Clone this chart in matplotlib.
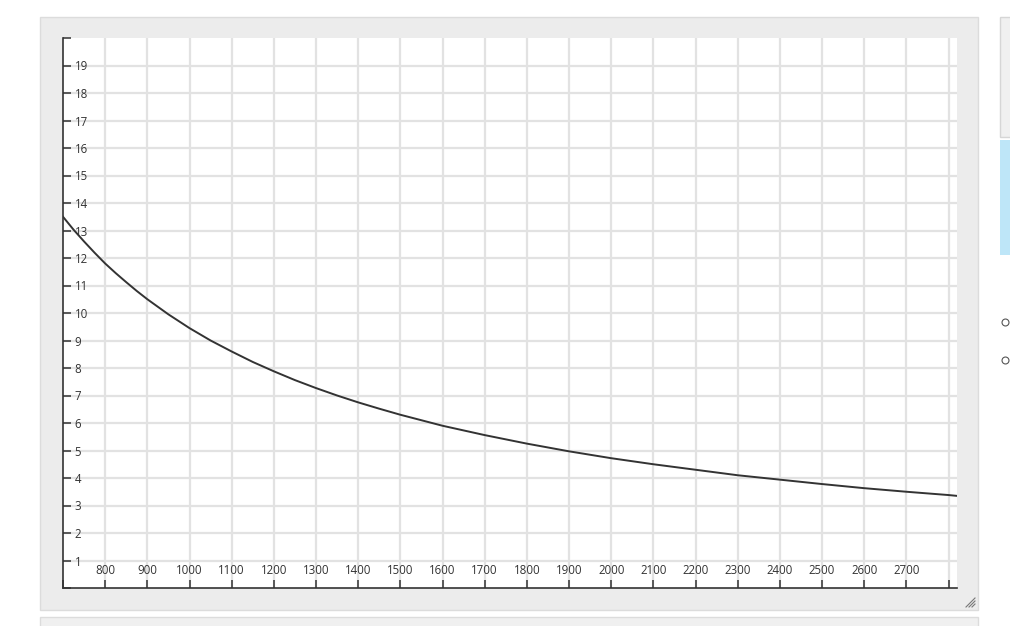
import matplotlib.pyplot as plt
from matplotlib.patches import Rectangle
from matplotlib.lines import Line2D

# values
x_vals = [700, 725, 750, 775, 800, 825, 850, 875, 900, 950, 1000, 1050, 1100, 1150,
          1200, 1250, 1300, 1350, 1400, 1450, 1500, 1600, 1700, 1800, 1900, 2000,
          2100, 2200, 2300, 2400, 2500, 2600, 2700, 2800, 2820]
y_vals = [13.5, 13.03, 12.6, 12.19, 11.8, 11.45, 11.12, 10.8, 10.5, 9.95, 9.45, 9.0,
          8.6, 8.22, 7.88, 7.56, 7.27, 7.0, 6.75, 6.52, 6.3, 5.9, 5.56, 5.25, 4.97,
          4.72, 4.5, 4.3, 4.1, 3.94, 3.78, 3.63, 3.5, 3.38, 3.35]

x_ticks = list(range(700, 2900, 100))
y_ticks = list(range(0, 21))
x_labels = ['' if (t == 700 or t == 2800) else str(t) for t in x_ticks]
y_labels = ['' if (t == 0 or t == 20) else str(t) for t in y_ticks]

W, H = 1010, 626
fig = plt.figure(figsize=(W / 100, H / 100), dpi=100)
fig.patch.set_facecolor('white')


def box(x0, y0, x1, y1, fc, ec, lw=1.0):
    # pixel coords (top-left origin) -> figure coords
    r = Rectangle((x0 / W, 1 - y1 / H), (x1 - x0) / W, (y1 - y0) / H,
                  transform=fig.transFigure, facecolor=fc, edgecolor=ec,
                  linewidth=lw, zorder=-5)
    fig.patches.append(r)


# gray window panel around the chart
box(40, 17, 978, 610, '#ececec', '#dcdcdc')
box(40, 617, 978, 630, '#f0f0f0', '#dcdcdc')
# side widgets on the right
box(1000, 17, 1012, 137, '#f0f0f0', '#d6d6d6')
box(1000, 140, 1012, 255, '#bee6f8', 'none')
for cy in (322, 360):
    fig.lines.append(Line2D([1004.5 / W], [1 - cy / H], transform=fig.transFigure,
                            marker='o', markersize=5, markerfacecolor='white',
                            markeredgecolor='#555555', markeredgewidth=0.8,
                            linestyle='none'))
# resize grip
for k in range(3):
    d = 3 + k * 3
    fig.lines.append(Line2D([(975 - d) / W, 975 / W], [1 - 607 / H, 1 - (607 - d) / H],
                            transform=fig.transFigure, color='#777777', linewidth=0.8))

ax = fig.add_axes([63 / W, 1 - 588 / H, (957 - 63) / W, (588 - 38) / H])
ax.set_zorder(5)
ax.set_facecolor('white')
ax.set_xlim(700, 2820)
ax.set_ylim(0, 20)

for t in x_ticks[1:]:
    ax.axvline(t, color='#e2e2e2', linewidth=1.6, zorder=0)
for t in y_ticks[1:-1]:
    ax.axhline(t, color='#e2e2e2', linewidth=1.6, zorder=0)

ax.plot(x_vals, y_vals, color='#333333', linewidth=1.4, zorder=3)

for s in ('top', 'right'):
    ax.spines[s].set_visible(False)
for s in ('left', 'bottom'):
    ax.spines[s].set_color('#333333')
    ax.spines[s].set_linewidth(1.2)

ax.set_xticks(x_ticks)
ax.set_xticklabels(x_labels)
ax.set_yticks(y_ticks)
ax.set_yticklabels(y_labels)
ax.tick_params(axis='x', direction='in', length=6, width=1.1, color='#333333',
               labelsize=8.3, labelcolor='#333333', pad=-10)
ax.tick_params(axis='y', direction='in', length=6, width=1.1, color='#333333',
               labelsize=8.3, labelcolor='#333333', pad=-8.5)
for lab in ax.get_xticklabels():
    lab.set_verticalalignment('baseline')
    lab.set_fontfamily('Open Sans')
for lab in ax.get_yticklabels():
    lab.set_horizontalalignment('left')
    lab.set_fontfamily('Open Sans')

fig.savefig('out.png', dpi=100)
